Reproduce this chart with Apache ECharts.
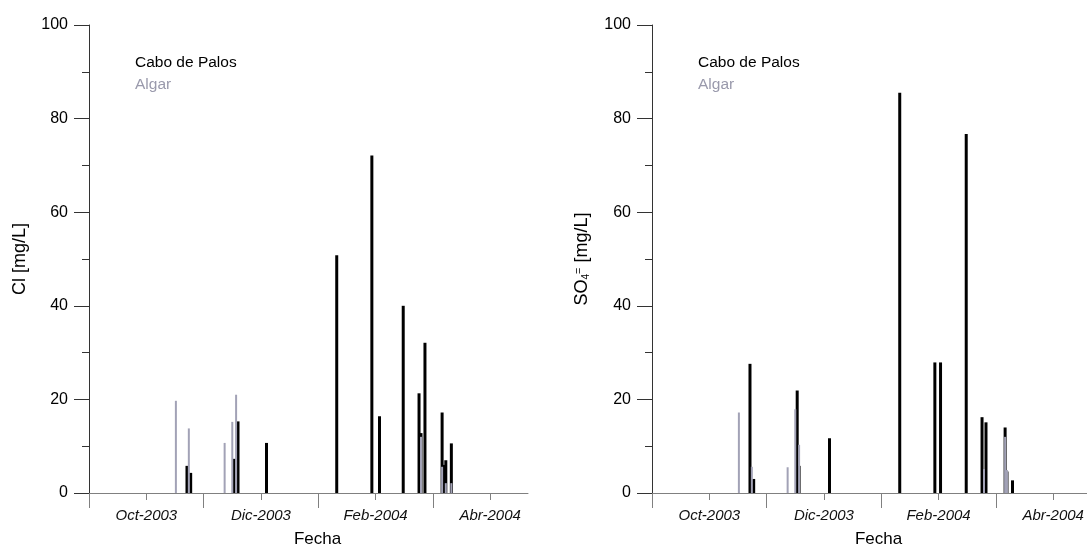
<!DOCTYPE html>
<html>
<head>
<meta charset="utf-8">
<script src="https://cdn.jsdelivr.net/npm/echarts@6/dist/echarts.min.js"></script>
<style>
  html, body { margin: 0; padding: 0; background: #fff; }
  #chart { width: 1087px; height: 548px; }
</style>
</head>
<body>
<div id="chart"></div>
<script>
// fechas de muestreo y concentraciones
const clCaboDates = ['2003-10-23', '2003-10-25', '2003-11-17', '2003-11-19', '2003-12-04', '2004-01-11', '2004-01-30', '2004-02-03', '2004-02-15', '2004-02-23', '2004-02-24', '2004-02-26', '2004-03-06', '2004-03-07', '2004-03-08', '2004-03-11'];
const clCaboValues = [5.8, 4.3, 7.3, 15.3, 10.7, 50.8, 72.1, 16.4, 40.0, 21.3, 12.8, 32.1, 17.2, 6.0, 7.0, 10.6];
const clAlgarDates = ['2003-10-17', '2003-10-24', '2003-11-12', '2003-11-16', '2003-11-18', '2004-02-24', '2004-03-06', '2004-03-08', '2004-03-11'];
const clAlgarValues = [19.7, 13.8, 10.7, 15.2, 21.0, 12.0, 5.6, 2.1, 2.1];

const so4CaboDates = ['2003-10-23', '2003-10-25', '2003-11-17', '2003-11-18', '2003-12-04', '2004-01-11', '2004-01-30', '2004-02-02', '2004-02-15', '2004-02-23', '2004-02-25', '2004-03-06', '2004-03-07', '2004-03-10'];
const so4CaboValues = [27.6, 3.0, 21.9, 5.8, 11.7, 85.5, 27.9, 27.9, 76.7, 16.2, 15.1, 14.0, 4.6, 2.7];
const so4AlgarDates = ['2003-10-17', '2003-10-24', '2003-11-12', '2003-11-16', '2003-11-18', '2004-02-24', '2004-03-06', '2004-03-07'];
const so4AlgarValues = [17.2, 5.6, 5.5, 17.9, 10.3, 5.1, 12.0, 4.9];

const xLabelMonths = [1, 3, 5, 7];
const xTickLabels = ['Oct-2003', 'Dic-2003', 'Feb-2004', 'Abr-2004'];
const xMajorMonths = [0, 2, 4, 6];

// months since 1-Sep-2003, fractional
function toMonth(s) {
  const [y, m, d] = s.split('-').map(Number);
  const dim = new Date(y, m, 0).getDate();
  return (y - 2003) * 12 + (m - 9) + (d - 1) / dim;
}
const pairs = (dates, vals) => dates.map((d, i) => [toMonth(d), vals[i]]);

const FONT = 'Liberation Sans, Arial, sans-serif';
const BLACK = '#000';
const GREY = '#a2a2b6';

const dom = document.getElementById('chart');
const myChart = echarts.init(dom, null, { renderer: 'canvas' });

const grids = [], xAxes = [], yAxes = [], series = [], legends = [];

function panel(i, left, right, max, yName, yGap, legendLeft, cabo, algar) {
  grids.push({ left: left, right: right, top: 25, bottom: 55, outerBoundsMode: 'none' });
  const base = { type: 'value', gridIndex: i, position: 'bottom', min: 0, max: max, splitLine: { show: false } };
  // axis with labels and short ticks
  xAxes.push(Object.assign({}, base, {
    name: 'Fecha',
    nameLocation: 'middle',
    nameGap: 38,
    nameMoveOverlap: false,
    nameTextStyle: { fontFamily: FONT, fontSize: 17, color: '#000', padding: [0, 0, 0, 18] },
    axisLine: { lineStyle: { color: '#808080', width: 1 } },
    axisTick: { length: 7, customValues: xLabelMonths, lineStyle: { color: '#808080' } },
    axisLabel: {
      customValues: xLabelMonths,
      formatter: v => xTickLabels[xLabelMonths.indexOf(Math.round(v))] || '',
      fontFamily: FONT, fontSize: 15, fontStyle: 'italic', color: '#111', margin: 15
    }
  }));
  // long ticks between labels
  xAxes.push(Object.assign({}, base, {
    axisLine: { show: false },
    axisTick: { length: 15, customValues: xMajorMonths, lineStyle: { color: '#808080' } },
    axisLabel: { show: false }
  }));
  // hidden axis for the grey bars
  xAxes.push(Object.assign({}, base, { show: false }));
  yAxes.push({
    type: 'value', gridIndex: i, min: 0, max: 100, interval: 20,
    name: yName, nameLocation: 'middle', nameGap: yGap, nameMoveOverlap: false,
    nameTextStyle: {
      fontFamily: FONT, fontSize: 18, color: '#000',
      rich: {
        sub: { fontFamily: FONT, fontSize: 10, verticalAlign: 'bottom', padding: [7, 0, 0, 0] },
        sup: { fontFamily: FONT, fontSize: 11, verticalAlign: 'top', padding: [0, 0, 7, 0] }
      }
    },
    splitLine: { show: false },
    axisLine: { show: true, lineStyle: { color: '#333', width: 1 } },
    axisTick: { length: 15, lineStyle: { color: '#333' } },
    minorTick: { show: true, splitNumber: 2, length: 7, lineStyle: { color: '#333' } },
    axisLabel: { fontFamily: FONT, fontSize: 16, color: '#000', margin: 21 }
  });
  series.push({
    name: 'Cabo de Palos', type: 'bar', xAxisIndex: i * 3, yAxisIndex: i,
    barWidth: 3, itemStyle: { color: BLACK }, data: cabo, z: 2
  });
  series.push({
    name: 'Algar', type: 'bar', xAxisIndex: i * 3 + 2, yAxisIndex: i,
    barWidth: 2, itemStyle: { color: GREY }, data: algar, z: 3
  });
  legends.push({
    left: legendLeft, top: 55, orient: 'vertical', padding: 0,
    icon: 'none', itemWidth: 0, itemHeight: 15, itemGap: 6,
    selectedMode: false,
    data: [
      { name: 'Cabo de Palos', textStyle: { color: '#000' } },
      { name: 'Algar', textStyle: { color: '#9a9aac' } }
    ],
    textStyle: { fontFamily: FONT, fontSize: 15.5 }
  });
}

panel(0, 89, 559, 7.66, 'Cl [mg/L]', 60, 130, pairs(clCaboDates, clCaboValues), pairs(clAlgarDates, clAlgarValues));
panel(1, 652, 0, 7.59, 'SO{sub|4}{sup|=} [mg/L]', 61, 693, pairs(so4CaboDates, so4CaboValues), pairs(so4AlgarDates, so4AlgarValues));

const option = {
  animation: false,
  backgroundColor: '#fff',
  grid: grids,
  xAxis: xAxes,
  yAxis: yAxes,
  legend: legends,
  series: series
};
myChart.setOption(option);
</script>
</body>
</html>
